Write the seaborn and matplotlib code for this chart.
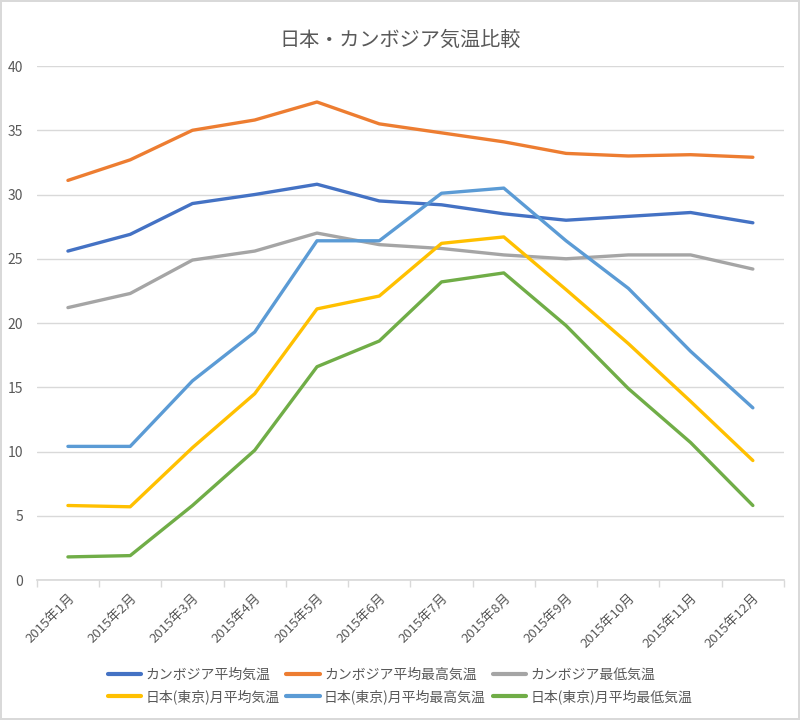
import matplotlib.pyplot as plt
import pandas as pd
import seaborn as sns
from matplotlib.ticker import FixedLocator

sns.set_theme(style="white")
plt.rcParams["font.family"] = ["Noto Sans CJK JP", "DejaVu Sans"]

months = [f"2015年{m}月" for m in range(1, 13)]
series_names = [
    "カンボジア平均気温",
    "カンボジア平均最高気温",
    "カンボジア最低気温",
    "日本(東京)月平均気温",
    "日本(東京)月平均最高気温",
    "日本(東京)月平均最低気温",
]
cambodia_avg = [25.6, 26.9, 29.3, 30.0, 30.8, 29.5, 29.2, 28.5, 28.0, 28.3, 28.6, 27.8]
cambodia_max = [31.1, 32.7, 35.0, 35.8, 37.2, 35.5, 34.8, 34.1, 33.2, 33.0, 33.1, 32.9]
cambodia_min = [21.2, 22.3, 24.9, 25.6, 27.0, 26.1, 25.8, 25.3, 25.0, 25.3, 25.3, 24.2]
tokyo_avg = [5.8, 5.7, 10.3, 14.5, 21.1, 22.1, 26.2, 26.7, 22.6, 18.4, 13.9, 9.3]
tokyo_max = [10.4, 10.4, 15.5, 19.3, 26.4, 26.4, 30.1, 30.5, 26.4, 22.7, 17.8, 13.4]
tokyo_min = [1.8, 1.9, 5.8, 10.1, 16.6, 18.6, 23.2, 23.9, 19.8, 14.9, 10.7, 5.8]
colors = ["#4472C4", "#ED7D31", "#A5A5A5", "#FFC000", "#5B9BD5", "#70AD47"]

values = [cambodia_avg, cambodia_max, cambodia_min, tokyo_avg, tokyo_max, tokyo_min]
rows = []
for name, vals in zip(series_names, values):
    for i, v in enumerate(vals):
        rows.append({"month": i, "series": name, "temp": v})
df = pd.DataFrame(rows)

fig = plt.figure(figsize=(8, 7.2), dpi=100, linewidth=1.5, edgecolor="#D9D9D9")
ax = fig.add_axes([0.046, 0.1944, 0.934, 0.7139])
sns.lineplot(
    data=df,
    x="month",
    y="temp",
    hue="series",
    hue_order=series_names,
    palette=colors,
    linewidth=2.4,
    ax=ax,
    legend=False,
)

ax.set_xlim(-0.5, 11.5)
ax.set_ylim(0, 40)
ax.set_yticks(range(0, 41, 5))
ax.set_xticks(range(12))
ax.set_xticklabels(months, rotation=45, ha="right", rotation_mode="anchor")
ax.xaxis.set_minor_locator(FixedLocator([x - 0.5 for x in range(13)]))
ax.tick_params(axis="x", which="major", length=0, pad=8, labelsize=9.5, labelcolor="#595959")
ax.tick_params(axis="x", which="minor", length=5, color="#D9D9D9", bottom=True)
ax.tick_params(axis="y", length=0, labelsize=10, labelcolor="#595959", pad=10)
ax.yaxis.grid(True, color="#D9D9D9", linewidth=1)
ax.set_axisbelow(True)
for side in ["left", "right", "top"]:
    ax.spines[side].set_visible(False)
ax.spines["bottom"].set_color("#D9D9D9")
ax.set_xlabel("")
ax.set_ylabel("")

fig.suptitle("日本・カンボジア気温比較", y=0.958, fontsize=14.5, color="#595959")

handles = [plt.Line2D([], [], color=c, linewidth=3) for c in colors]
order = [0, 3, 1, 4, 2, 5]
fig.legend(
    [handles[i] for i in order],
    [series_names[i] for i in order],
    loc="center",
    bbox_to_anchor=(0.5, 0.047),
    ncol=3,
    frameon=False,
    fontsize=10,
    labelcolor="#595959",
    handlelength=2.4,
    handletextpad=0.3,
    columnspacing=0.5,
    labelspacing=0.5,
)

plt.savefig("out.png", dpi=100)
